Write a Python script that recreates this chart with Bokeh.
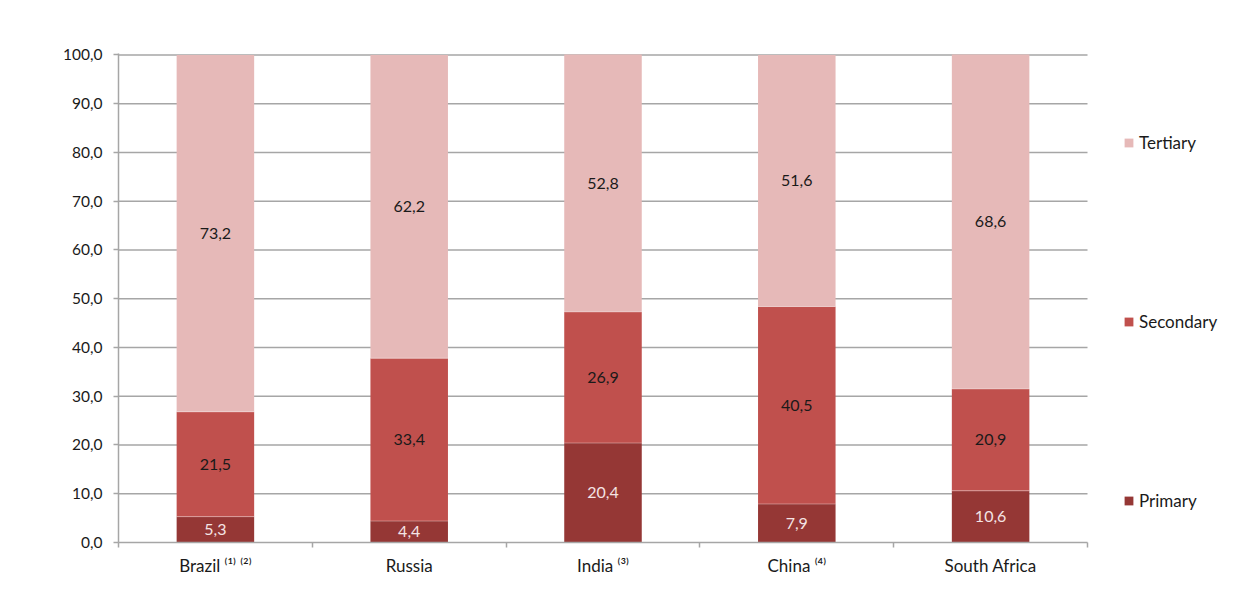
from bokeh.plotting import figure
from bokeh.models import (ColumnDataSource, Range1d, FixedTicker, Legend, LegendItem)
from bokeh.core.properties import value
from bokeh.embed import file_html
from bokeh.resources import INLINE

countries = ["Brazil \u207d\u00b9\u207e \u207d\u00b2\u207e", "Russia", "India \u207d\u00b3\u207e", "China \u207d\u2074\u207e", "South Africa"]
primary = [5.3, 4.4, 20.4, 7.9, 10.6]
secondary = [21.5, 33.4, 26.9, 40.5, 20.9]
tertiary = [73.2, 62.2, 52.8, 51.6, 68.6]
y_ticks = [0, 10, 20, 30, 40, 50, 60, 70, 80, 90, 100]

FONT = "Lato"
C_TER = "#e6b9b8"
C_SEC = "#c0504d"
C_PRI = "#953735"
C_GRID = "#a6a6a6"

n = len(countries)
xs = [i + 0.5 for i in range(n)]
p0 = [0.0] * n
p1 = primary
s1 = [a + b for a, b in zip(primary, secondary)]
t1 = [a + b for a, b in zip(s1, tertiary)]

LEFT, TOP, BOTTOM = 118, 53, 47
FW, FH = 1227 - LEFT, 489
CAT_W = 969 / n  # px per category in the chart body
p = figure(frame_width=FW, frame_height=FH, output_backend="svg", toolbar_location=None,
           x_range=Range1d(0, FW / CAT_W), y_range=Range1d(0, 100.3),
           min_border_left=LEFT, min_border_top=TOP, min_border_right=0, min_border_bottom=BOTTOM)
p.outline_line_color = None
p.background_fill_color = "white"
p.border_fill_color = "white"
p.xgrid.grid_line_color = None
p.ygrid.grid_line_color = None

# horizontal gridlines, limited to the chart body
gl = [t for t in y_ticks if t > 0]
p.segment(x0=[0] * len(gl), x1=[n] * len(gl), y0=gl, y1=gl, line_color=C_GRID, line_width=1.5)

bw = 0.4
r_pri = p.vbar(x=xs, bottom=p0, top=p1, width=bw, fill_color=C_PRI, line_color=None)
r_sec = p.vbar(x=xs, bottom=p1, top=s1, width=bw, fill_color=C_SEC, line_color=None)
r_ter = p.vbar(x=xs, bottom=s1, top=t1, width=bw, fill_color=C_TER, line_color=None)
p.segment(x0=[x - bw / 2 for x in xs], x1=[x + bw / 2 for x in xs], y0=p1, y1=p1,
          line_color="white", line_alpha=0.35, line_width=1)
p.segment(x0=[x - bw / 2 for x in xs], x1=[x + bw / 2 for x in xs], y0=s1, y1=s1,
          line_color="white", line_alpha=0.35, line_width=1)

def fmt(v):
    return ("%.1f" % v).replace(".", ",")

for lo, hi, vals, col in [(p0, p1, primary, "#f4e4e4"), (p1, s1, secondary, "#1a1a1a"), (s1, t1, tertiary, "#1a1a1a")]:
    src = ColumnDataSource(dict(x=xs, y=[(a + b) / 2 for a, b in zip(lo, hi)], t=[fmt(v) for v in vals]))
    p.text(x="x", y="y", text="t", source=src, text_align="center", text_baseline="middle",
           text_font=value(FONT), text_font_size="16px", text_color=col)

# y axis
ya = p.yaxis[0]
ya.ticker = FixedTicker(ticks=y_ticks)
ya.major_label_overrides = {t: fmt(t) for t in y_ticks}
ya.axis_line_color = C_GRID
ya.axis_line_width = 1.5
ya.major_tick_line_color = C_GRID
ya.major_tick_line_width = 1.5
ya.major_tick_in = 0
ya.major_tick_out = 5
ya.minor_tick_line_color = None
ya.major_label_text_font = FONT
ya.major_label_text_font_size = "15.5px"
ya.major_label_text_color = "#1a1a1a"
ya.major_label_standoff = 11

# x axis
xa = p.xaxis[0]
xa.bounds = (0, n)
xa.ticker = FixedTicker(ticks=xs, minor_ticks=list(range(n + 1)))
xa.major_label_overrides = {x: c for x, c in zip(xs, countries)}
xa.axis_line_color = C_GRID
xa.axis_line_width = 1.5
xa.major_tick_line_color = None
xa.major_tick_in = 0
xa.major_tick_out = 0
xa.minor_tick_line_color = C_GRID
xa.minor_tick_line_width = 1.5
xa.minor_tick_in = 0
xa.minor_tick_out = 5
xa.major_label_text_font = FONT
xa.major_label_text_font_size = "17px"
xa.major_label_text_color = "#1a1a1a"
xa.major_label_standoff = 7

legend = Legend(items=[LegendItem(label="Tertiary", renderers=[r_ter]),
                       LegendItem(label="Secondary", renderers=[r_sec]),
                       LegendItem(label="Primary", renderers=[r_pri])],
                location=(1005, 31), orientation="vertical", spacing=158,
                border_line_color=None, background_fill_alpha=0, padding=0, margin=0,
                glyph_width=11, glyph_height=11, label_standoff=5,
                label_text_font=FONT, label_text_font_size="17px", label_text_color="#1a1a1a",
                label_height=14)
p.add_layout(legend, "center")

open("out.html", "w").write(file_html(p, INLINE))
